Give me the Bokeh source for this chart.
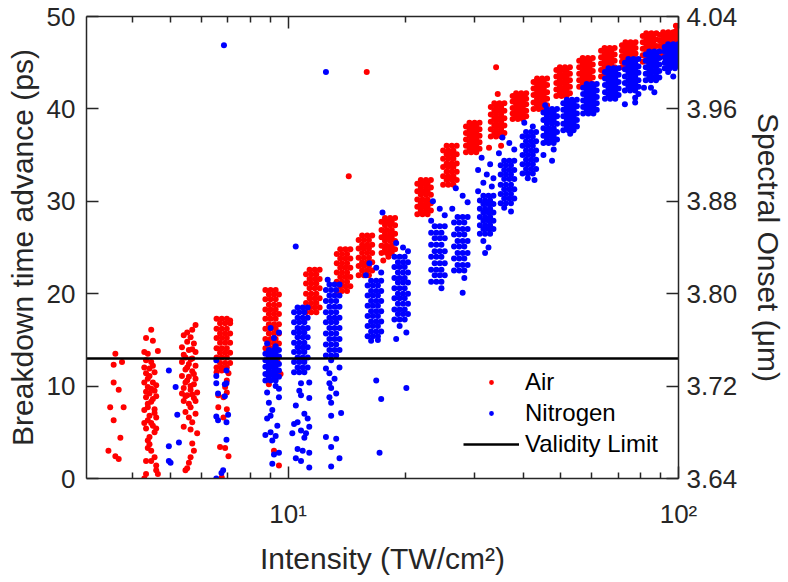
from bokeh.plotting import figure
from bokeh.models import (Range1d, LinearAxis, LogAxis, FixedTicker, Legend,
                          LegendItem, PrintfTickFormatter)
from bokeh.embed import file_html
from bokeh.resources import INLINE

# ---------------- axes / ticks ----------------
x_lo, x_hi = 3.045, 100
y_lo, y_hi = 0, 50
onset_lo, onset_hi = 3.64, 4.04
x_major = [10, 100]
x_minor = [4, 5, 6, 7, 8, 9, 20, 30, 40, 50, 60, 70, 80, 90]
x_labels = {10: "10¹", 100: "10²"}
y_ticks = [0, 10, 20, 30, 40, 50]
onset_ticks = [3.64, 3.72, 3.80, 3.88, 3.96, 4.04]
validity_limit = 13

# ---------------- Air: nominal intensity of each shot group (TW/cm2) ----------------
air_levels = [3.61, 4.46, 5.57, 6.83, 9.11, 11.58, 13.88, 15.79, 18.07, 22.32, 25.99,
              29.74, 34.43, 39.16, 44.30, 50.68, 57.99, 65.97, 74.63, 84.37, 93.24, 100.5]
# each shot: (intensity deviation in %, breakdown time advance in ps)
air_shots = [
    [(0,13.5),(-1,12.3),(4,12.6),(-1,10.4),(2,9.6),(-3,7.7),(5,7.7),(-1,6.3),(3,4.4),(-4,3.0),(0,2.4),(2,2.1)],
    [(0,16.1),(-3,15.2),(1,14.9),(-4,13.7),(4,13.8),(-2,13.5),(-3,12.8),(0,12.6),(1,12.2),(-4,12.0),(-1,11.9),(2,11.5),
     (-3,11.4),(-1,11.1),(-2,10.8),(-4,10.4),(1,10.4),(3,10.1),(-2,9.9),(0,9.7),(2,9.5),(-3,9.4),(-1,9.2),(3,8.9),
     (-3,8.8),(1,8.6),(0,8.3),(-2,8.1),(-2,7.7),(2,7.5),(-4,7.4),(2,7.1),(-1,6.8),(3,6.6),(-2,6.3),(0,6.0),(-4,6.0),
     (1,5.7),(-3,5.4),(3,5.4),(2,5.0),(-1,4.5),(-2,4.1),(-1,3.7),(-2,3.3),(0,3.0),(2,2.3),(-3,1.9),(0,1.9),(3,1.4),
     (3,0.9),(-3,0.5),(-4,0.0),(4,0.5)],
    [(4,16.6),(2,16.1),(-1,15.8),(-3,15.5),(1,15.3),(-1,14.8),(3,14.6),(-4,14.2),(2,14.0),(0,13.9),(4,13.7),(-3,13.4),
     (-2,13.1),(2,13.0),(1,12.9),(-4,12.6),(0,12.4),(4,12.2),(-1,12.0),(-2,11.8),(2,11.6),(3,11.3),(-4,11.1),(0,11.0),
     (4,10.8),(-1,10.6),(-2,10.4),(3,10.2),(1,10.0),(-3,9.8),(1,9.6),(5,9.3),(-4,9.2),(2,9.1),(-1,9.0),(-2,8.9),
     (3,8.7),(-3,8.4),(4,8.4),(0,8.1),(1,7.7),(-2,7.2),(4,7.0),(0,6.6),(2,6.1),(-3,5.6),(1,5.3),(5,4.9),(2,3.8),
     (3,3.0),(1,2.3),(0,1.7),(-1,1.1),(-2,0.9)],
    [(-4,12.0),(-1,12.0),(2,12.0),(-2,12.5),(1,12.5),(4,12.5),(-4,13.1),(-1,13.1),(2,13.1),(-2,13.6),(1,13.6),(4,13.6),
     (-4,14.1),(-1,14.1),(2,14.1),(-2,14.7),(1,14.7),(4,14.7),(-4,15.2),(-1,15.2),(2,15.2),(-2,15.7),(1,15.7),(4,15.7),
     (-4,16.2),(-1,16.2),(2,16.2),(-2,16.8),(1,16.8),(4,16.8),(-4,17.3),(-1,17.3),(2,17.3),
     (-1,11.7),(3,11.4),(-4,11.5),(4,17.1),
     (-3,9.0),(2,9.3),(0,8.8),(-3,7.7),(2,7.5),(0,6.6),(-2,3.4),(1,3.3),(3,2.4),(-1,0.1),(1,9.9),(2,10.6)],
    [(-4,14.1),(-1,14.1),(2,14.1),(-2,14.6),(1,14.6),(4,14.6),(-4,15.1),(-1,15.1),(2,15.1),(-2,15.7),(1,15.7),(4,15.7),
     (-4,16.2),(-1,16.2),(2,16.2),(-2,16.7),(1,16.7),(4,16.7),(-4,17.3),(-1,17.3),(2,17.3),(-2,17.8),(1,17.8),(4,17.8),
     (-4,18.3),(-1,18.3),(2,18.3),(-2,18.8),(1,18.8),(4,18.8),(-4,19.4),(-1,19.4),(2,19.4),(-2,19.9),(1,19.9),(4,19.9),
     (-4,20.4),(-1,20.4),(2,20.4),
     (-3,13.6),(1,13.5),(-1,13.0),(3,12.7),(-2,10.2),(5,11.3),(1,3.0),(4,1.4)],
    [(-4,18.0),(-1,18.0),(2,18.0),(-2,18.5),(1,18.5),(4,18.5),(-4,19.0),(-1,19.0),(2,19.0),(-2,19.5),(1,19.5),(4,19.5),
     (-4,20.0),(-1,20.0),(2,20.0),(-2,20.6),(1,20.6),(4,20.6),(-4,21.1),(-1,21.1),(2,21.1),(-2,21.6),(1,21.6),(4,21.6),
     (-4,22.1),(-1,22.1),(2,22.1),(-2,22.6),(1,22.6),(4,22.6)],
    [(-4,20.3),(-1,20.3),(2,20.3),(-2,20.8),(1,20.8),(4,20.8),(-4,21.3),(-1,21.3),(2,21.3),(-2,21.8),(1,21.8),(4,21.8),
     (-4,22.3),(-1,22.3),(2,22.3),(-2,22.8),(1,22.8),(4,22.8),(-4,23.3),(-1,23.3),(2,23.3),(-2,23.8),(1,23.8),(4,23.8),
     (-4,24.3),(-1,24.3),(2,24.3),(-2,24.8),(1,24.8),(4,24.8)],
    [(-4,22.0),(-1,22.0),(2,22.0),(-2,22.5),(1,22.5),(4,22.5),(-4,23.0),(-1,23.0),(2,23.0),(-2,23.4),(1,23.4),(4,23.4),
     (-4,23.9),(-1,23.9),(2,23.9),(-2,24.4),(1,24.4),(4,24.4),(-4,24.9),(-1,24.9),(2,24.9),(-2,25.3),(1,25.3),(4,25.3),
     (-4,25.8),(-1,25.8),(2,25.8),(-2,26.3),(1,26.3),(4,26.3)],
    [(-4,24.4),(-1,24.4),(2,24.4),(-2,24.8),(1,24.8),(4,24.8),(-4,25.2),(-1,25.2),(2,25.2),(-2,25.7),(1,25.7),(4,25.7),
     (-4,26.1),(-1,26.1),(2,26.1),(-2,26.5),(1,26.5),(4,26.5),(-4,26.9),(-1,26.9),(2,26.9),(-2,27.4),(1,27.4),(4,27.4),
     (-4,27.8),(-1,27.8),(2,27.8),(-2,28.2),(1,28.2),(4,28.2),(-3,23.6),(0,24.0)],
    [(-4,28.6),(-1,28.6),(2,28.6),(-2,29.0),(1,29.0),(4,29.0),(-4,29.4),(-1,29.4),(2,29.4),(-2,29.8),(1,29.8),(4,29.8),
     (-4,30.2),(-1,30.2),(2,30.2),(-2,30.7),(1,30.7),(4,30.7),(-4,31.1),(-1,31.1),(2,31.1),(-2,31.5),(1,31.5),(4,31.5),
     (-4,31.9),(-1,31.9),(2,31.9),(-2,32.3),(1,32.3),(4,32.3)],
    [(-4,31.8),(-1,31.8),(2,31.8),(-2,32.3),(1,32.3),(4,32.3),(-4,32.7),(-1,32.7),(2,32.7),(-2,33.2),(1,33.2),(4,33.2),
     (-4,33.7),(-1,33.7),(2,33.7),(-2,34.1),(1,34.1),(4,34.1),(-4,34.6),(-1,34.6),(2,34.6),(-2,35.1),(1,35.1),(4,35.1),
     (-4,35.5),(-1,35.5),(2,35.5),(-2,36.0),(1,36.0),(4,36.0)],
    [(-4,35.3),(-1,35.3),(2,35.3),(-2,35.7),(1,35.7),(4,35.7),(-4,36.0),(-1,36.0),(2,36.0),(-2,36.4),(1,36.4),(4,36.4),
     (-4,36.7),(-1,36.7),(2,36.7),(-2,37.1),(1,37.1),(4,37.1),(-4,37.4),(-1,37.4),(2,37.4),(-2,37.8),(1,37.8),(4,37.8),
     (-4,38.1),(-1,38.1),(2,38.1),(-2,38.5),(1,38.5),(4,38.5)],
    [(-4,37.0),(-1,37.0),(2,37.0),(-2,37.4),(1,37.4),(4,37.4),(-4,37.8),(-1,37.8),(2,37.8),(-2,38.2),(1,38.2),(4,38.2),
     (-4,38.6),(-1,38.6),(2,38.6),(-2,39.0),(1,39.0),(4,39.0),(-4,39.4),(-1,39.4),(2,39.4),(-2,39.8),(1,39.8),(4,39.8),
     (-4,40.2),(-1,40.2),(2,40.2),(-2,40.6),(1,40.6),(4,40.6),(-5,35.8),(2,36.0),(0,41.6)],
    [(-4,38.9),(-1,38.9),(2,38.9),(-2,39.2),(1,39.2),(4,39.2),(-4,39.5),(-1,39.5),(2,39.5),(-2,39.8),(1,39.8),(4,39.8),
     (-4,40.1),(-1,40.1),(2,40.1),(-2,40.5),(1,40.5),(4,40.5),(-4,40.8),(-1,40.8),(2,40.8),(-2,41.1),(1,41.1),(4,41.1),
     (-4,41.4),(-1,41.4),(2,41.4),(-2,41.7),(1,41.7),(4,41.7)],
    [(-4,40.0),(-1,40.0),(2,40.0),(-2,40.4),(1,40.4),(4,40.4),(-4,40.7),(-1,40.7),(2,40.7),(-2,41.1),(1,41.1),(4,41.1),
     (-4,41.5),(-1,41.5),(2,41.5),(-2,41.8),(1,41.8),(4,41.8),(-4,42.2),(-1,42.2),(2,42.2),(-2,42.6),(1,42.6),(4,42.6),
     (-4,42.9),(-1,42.9),(2,42.9),(-2,43.3),(1,43.3),(4,43.3)],
    [(-4,41.4),(-1,41.4),(2,41.4),(-2,41.7),(1,41.7),(4,41.7),(-4,42.1),(-1,42.1),(2,42.1),(-2,42.4),(1,42.4),(4,42.4),
     (-4,42.8),(-1,42.8),(2,42.8),(-2,43.1),(1,43.1),(4,43.1),(-4,43.5),(-1,43.5),(2,43.5),(-2,43.8),(1,43.8),(4,43.8),
     (-4,44.2),(-1,44.2),(2,44.2),(-2,44.5),(1,44.5),(4,44.5)],
    [(-4,42.4),(-1,42.4),(2,42.4),(-2,42.7),(1,42.7),(4,42.7),(-4,43.1),(-1,43.1),(2,43.1),(-2,43.4),(1,43.4),(4,43.4),
     (-4,43.8),(-1,43.8),(2,43.8),(-2,44.1),(1,44.1),(4,44.1),(-4,44.5),(-1,44.5),(2,44.5),(-2,44.8),(1,44.8),(4,44.8),
     (-4,45.2),(-1,45.2),(2,45.2),(-2,45.5),(1,45.5),(4,45.5),(4,41.4)],
    [(-4,43.5),(-1,43.5),(2,43.5),(-2,43.8),(1,43.8),(4,43.8),(-4,44.2),(-1,44.2),(2,44.2),(-2,44.5),(1,44.5),(4,44.5),
     (-4,44.9),(-1,44.9),(2,44.9),(-2,45.2),(1,45.2),(4,45.2),(-4,45.6),(-1,45.6),(2,45.6),(-2,45.9),(1,45.9),(4,45.9),
     (-4,46.3),(-1,46.3),(2,46.3),(-2,46.6),(1,46.6),(4,46.6),(4,42.9)],
    [(-4,44.5),(-1,44.5),(2,44.5),(-2,44.8),(1,44.8),(4,44.8),(-4,45.1),(-1,45.1),(2,45.1),(-2,45.4),(1,45.4),(4,45.4),
     (-4,45.7),(-1,45.7),(2,45.7),(-2,46.0),(1,46.0),(4,46.0),(-4,46.3),(-1,46.3),(2,46.3),(-2,46.6),(1,46.6),(4,46.6),
     (-4,46.9),(-1,46.9),(2,46.9),(-2,47.2),(1,47.2),(4,47.2)],
    [(-4,45.1),(-1,45.1),(2,45.1),(-2,45.4),(1,45.4),(4,45.4),(-4,45.8),(-1,45.8),(2,45.8),(-2,46.1),(1,46.1),(4,46.1),
     (-4,46.5),(-1,46.5),(2,46.5),(-2,46.8),(1,46.8),(4,46.8),(-4,47.2),(-1,47.2),(2,47.2),(-2,47.5),(1,47.5),(4,47.5),
     (-4,47.9),(-1,47.9),(2,47.9),(-2,48.2),(1,48.2),(4,48.2)],
    [(-4,45.6),(-1,45.6),(2,45.6),(-2,45.9),(1,45.9),(4,45.9),(-4,46.2),(-1,46.2),(2,46.2),(-2,46.5),(1,46.5),(4,46.5),
     (-4,46.8),(-1,46.8),(2,46.8),(-2,47.1),(1,47.1),(4,47.1),(-4,47.4),(-1,47.4),(2,47.4),(-2,47.7),(1,47.7),(4,47.7),
     (-4,48.0),(-1,48.0),(2,48.0),(-2,48.3),(1,48.3),(4,48.3)],
    [(-2,46.6),(0,46.6),(-1,46.9),(1,46.9),(-2,47.2),(0,47.2),(-1,47.5),(1,47.5),(-2,47.8),(0,47.8),(-1,48.1),(1,48.1),
     (-2,48.4),(0,48.4),(-1,48.7),(1,48.7),(-2,49.0),(0,49.0)],
]
air_outliers = [(15.9, 44.0), (14.3, 32.7), (34.1, 44.5)]

# ---------------- Nitrogen ----------------
n2_levels = [5.05, 6.75, 9.11, 10.79, 13.02, 16.65, 19.50, 24.22, 27.72, 32.28, 36.50,
             41.52, 46.96, 52.80, 59.36, 67.52, 75.93, 85.87, 96.0]
n2_shots = [
    [(-2,11.7),(2,9.9),(3,6.9),(-2,3.5),(4,3.9),(-2,1.9),(-1,1.7)],
    [(-3,12.8),(-3,11.1),(3,11.7),(-3,10.3),(-2,9.2),(2,8.9),(-3,6.7),(-2,6.3),(3,6.1),(3,4.2),(1,0.9),(0,0.6),
     (-3,0.0),(3,10.3),(4,6.9),(2,10.2)],
    [(-4,10.6),(-1,10.6),(2,10.6),(-2,11.0),(1,11.0),(4,11.0),(-4,11.3),(-1,11.3),(2,11.3),(-2,11.7),(1,11.7),(4,11.7),
     (-4,12.1),(-1,12.1),(2,12.1),(-2,12.4),(1,12.4),(4,12.4),(-4,12.8),(-1,12.8),(2,12.8),(-2,13.2),(1,13.2),(4,13.2),
     (-4,13.5),(-1,13.5),(2,13.5),(-2,13.9),(1,13.9),(4,13.9),
     (-3,14.6),(1,15.2),(4,15.8),(-1,16.3),(2,14.3),
     (4,9.7),(4,8.8),(-2,8.2),(0,7.4),(-1,6.8),(-3,6.5),(3,5.7),(-4,4.7),(-1,5.0),(2,4.6),(0,4.1),(4,2.8),(1,2.6),
     (0,1.6),(-3,9.3),(2,10.0)],
    [(-4,11.5),(-1,11.5),(2,11.5),(-2,12.0),(1,12.0),(4,12.0),(-4,12.6),(-1,12.6),(2,12.6),(-2,13.1),(1,13.1),(4,13.1),
     (-4,13.7),(-1,13.7),(2,13.7),(-2,14.2),(1,14.2),(4,14.2),(-4,14.7),(-1,14.7),(2,14.7),(-2,15.3),(1,15.3),(4,15.3),
     (-4,15.8),(-1,15.8),(2,15.8),(-2,16.3),(1,16.3),(4,16.3),(-4,16.9),(-1,16.9),(2,16.9),(-2,17.4),(1,17.4),(4,17.4),
     (-4,18.0),(-1,18.0),(2,18.0),(-2,18.5),(1,18.5),(4,18.5),
     (0,10.3),(5,10.4),(-1,9.5),(0,9.0),(5,8.7),(-3,7.9),(2,7.0),(4,6.5),(-4,5.9),(-2,6.1),(5,5.6),(0,5.2),(-5,4.9),
     (3,4.9),(2,4.4),(-2,3.2),(1,3.0),(5,2.8),(-3,2.2),(0,1.9),(5,1.2)],
    [(-4,13.3),(-1,13.3),(2,13.3),(-2,13.9),(1,13.9),(4,13.9),(-4,14.5),(-1,14.5),(2,14.5),(-2,15.1),(1,15.1),(4,15.1),
     (-4,15.7),(-1,15.7),(2,15.7),(-2,16.3),(1,16.3),(4,16.3),(-4,16.9),(-1,16.9),(2,16.9),(-2,17.4),(1,17.4),(4,17.4),
     (-4,18.0),(-1,18.0),(2,18.0),(-2,18.6),(1,18.6),(4,18.6),(-4,19.2),(-1,19.2),(2,19.2),(-2,19.8),(1,19.8),(4,19.8),
     (-4,20.4),(-1,20.4),(2,20.4),(-2,21.0),(1,21.0),(4,21.0),(-3,21.5),(-1,12.8),
     (-4,11.9),(4,12.0),(-2,11.4),(1,10.8),(-2,10.3),(-1,9.8),(2,9.2),(-2,8.8),(-1,8.2),(-1,6.8),(5,7.1),(-4,4.5),
     (2,4.3),(-1,3.4),(4,2.2),(-1,1.3)],
    [(-4,15.4),(-1,15.4),(2,15.4),(-2,15.9),(1,15.9),(4,15.9),(-4,16.5),(-1,16.5),(2,16.5),(-2,17.0),(1,17.0),(4,17.0),
     (-4,17.6),(-1,17.6),(2,17.6),(-2,18.1),(1,18.1),(4,18.1),(-4,18.7),(-1,18.7),(2,18.7),(-2,19.2),(1,19.2),(4,19.2),
     (-4,19.8),(-1,19.8),(2,19.8),(-2,20.3),(1,20.3),(4,20.3),(-4,20.9),(-1,20.9),(2,20.9),(-2,21.4),(1,21.4),(4,21.4),
     (-3,23.3),(1,22.8),(4,22.3),(-5,22.0),(2,15.0),(-2,14.9),(1,10.6),(4,8.6),(3,2.8)],
    [(-4,17.2),(-1,17.2),(2,17.2),(-2,17.8),(1,17.8),(4,17.8),(-4,18.3),(-1,18.3),(2,18.3),(-2,18.9),(1,18.9),(4,18.9),
     (-4,19.5),(-1,19.5),(2,19.5),(-2,20.0),(1,20.0),(4,20.0),(-4,20.6),(-1,20.6),(2,20.6),(-2,21.2),(1,21.2),(4,21.2),
     (-4,21.7),(-1,21.7),(2,21.7),(-2,22.3),(1,22.3),(4,22.3),(-4,22.9),(-1,22.9),(2,22.9),(-2,23.4),(1,23.4),(4,23.4),
     (-4,24.0),(-1,24.0),(2,24.0),
     (-3,25.5),(1,25.0),(4,24.6),(-1,16.5),(3,15.8),(-3,15.1),(3,9.8)],
    [(-4,21.3),(-1,21.3),(2,21.3),(-2,22.0),(1,22.0),(4,22.0),(-4,22.6),(-1,22.6),(2,22.6),(-2,23.3),(1,23.3),(4,23.3),
     (-4,24.0),(-1,24.0),(2,24.0),(-2,24.6),(1,24.6),(4,24.6),(-4,25.3),(-1,25.3),(2,25.3),(-2,26.0),(1,26.0),(4,26.0),
     (-4,26.6),(-1,26.6),(2,26.6),(-2,27.3),(1,27.3),(4,27.3),
     (-3,30.0),(1,29.2),(4,28.5),(-4,27.9),(2,20.6)],
    [(-4,22.5),(-1,22.5),(2,22.5),(-2,23.1),(1,23.1),(4,23.1),(-4,23.8),(-1,23.8),(2,23.8),(-2,24.4),(1,24.4),(4,24.4),
     (-4,25.1),(-1,25.1),(2,25.1),(-2,25.7),(1,25.7),(4,25.7),(-4,26.4),(-1,26.4),(2,26.4),(-2,27.0),(1,27.0),(4,27.0),
     (-4,27.7),(-1,27.7),(2,27.7),(-2,28.3),(1,28.3),(4,28.3),
     (-3,31.4),(1,30.6),(4,29.9),(-5,29.2),(2,21.7),(1,20.1)],
    [(-4,26.5),(-1,26.5),(2,26.5),(-2,27.0),(1,27.0),(4,27.0),(-4,27.4),(-1,27.4),(2,27.4),(-2,27.9),(1,27.9),(4,27.9),
     (-4,28.3),(-1,28.3),(2,28.3),(-2,28.8),(1,28.8),(4,28.8),(-4,29.2),(-1,29.2),(2,29.2),(-2,29.7),(1,29.7),(4,29.7),
     (-4,30.1),(-1,30.1),(2,30.1),(-2,30.6),(1,30.6),(4,30.6),
     (-3,34.7),(2,34.0),(-5,33.4),(0,32.9),(4,32.5),(-2,32.0),(3,31.6),(-5,31.1),(-2,25.7),(1,25.0),(-1,24.4)],
    [(-4,29.8),(-1,29.8),(2,29.8),(-2,30.3),(1,30.3),(4,30.3),(-4,30.8),(-1,30.8),(2,30.8),(-2,31.3),(1,31.3),(4,31.3),
     (-4,31.8),(-1,31.8),(2,31.8),(-2,32.4),(1,32.4),(4,32.4),(-4,32.9),(-1,32.9),(2,32.9),(-2,33.4),(1,33.4),(4,33.4),
     (-4,33.9),(-1,33.9),(2,33.9),(-2,34.4),(1,34.4),(4,34.4),
     (-3,36.9),(1,36.3),(4,35.6),(-5,35.2),(-2,29.3),(2,28.9)],
    [(-4,33.0),(-1,33.0),(2,33.0),(-2,33.5),(1,33.5),(4,33.5),(-4,34.0),(-1,34.0),(2,34.0),(-2,34.5),(1,34.5),(4,34.5),
     (-4,35.0),(-1,35.0),(2,35.0),(-2,35.5),(1,35.5),(4,35.5),(-4,36.0),(-1,36.0),(2,36.0),(-2,36.5),(1,36.5),(4,36.5),
     (-4,37.0),(-1,37.0),(2,37.0),(-2,37.5),(1,37.5),(4,37.5),
     (-3,38.5),(2,38.1),(-1,32.5),(3,32.3)],
    [(-4,36.3),(-1,36.3),(2,36.3),(-2,36.7),(1,36.7),(4,36.7),(-4,37.1),(-1,37.1),(2,37.1),(-2,37.5),(1,37.5),(4,37.5),
     (-4,37.9),(-1,37.9),(2,37.9),(-2,38.4),(1,38.4),(4,38.4),(-4,38.8),(-1,38.8),(2,38.8),(-2,39.2),(1,39.2),(4,39.2),
     (-4,39.6),(-1,39.6),(2,39.6),(-2,40.0),(1,40.0),(4,40.0),
     (-3,40.4),(2,35.6),(-4,35.0),(1,34.4)],
    [(-4,37.7),(-1,37.7),(2,37.7),(-2,38.1),(1,38.1),(4,38.1),(-4,38.4),(-1,38.4),(2,38.4),(-2,38.8),(1,38.8),(4,38.8),
     (-4,39.2),(-1,39.2),(2,39.2),(-2,39.5),(1,39.5),(4,39.5),(-4,39.9),(-1,39.9),(2,39.9),(-2,40.3),(1,40.3),(4,40.3),
     (-4,40.6),(-1,40.6),(2,40.6),(-2,41.0),(1,41.0),(4,41.0),(0,37.3)],
    [(-4,39.5),(-1,39.5),(2,39.5),(-2,39.9),(1,39.9),(4,39.9),(-4,40.2),(-1,40.2),(2,40.2),(-2,40.6),(1,40.6),(4,40.6),
     (-4,40.9),(-1,40.9),(2,40.9),(-2,41.3),(1,41.3),(4,41.3),(-4,41.6),(-1,41.6),(2,41.6),(-2,42.0),(1,42.0),(4,42.0),
     (-4,42.3),(-1,42.3),(2,42.3),(-2,42.7),(1,42.7),(4,42.7)],
    [(-4,41.1),(-1,41.1),(2,41.1),(-2,41.5),(1,41.5),(4,41.5),(-4,41.8),(-1,41.8),(2,41.8),(-2,42.2),(1,42.2),(4,42.2),
     (-4,42.6),(-1,42.6),(2,42.6),(-2,42.9),(1,42.9),(4,42.9),(-4,43.3),(-1,43.3),(2,43.3),(-2,43.7),(1,43.7),(4,43.7),
     (-4,44.0),(-1,44.0),(2,44.0),(-2,44.4),(1,44.4),(4,44.4)],
    [(-4,42.0),(-1,42.0),(2,42.0),(-2,42.4),(1,42.4),(4,42.4),(-4,42.8),(-1,42.8),(2,42.8),(-2,43.1),(1,43.1),(4,43.1),
     (-4,43.5),(-1,43.5),(2,43.5),(-2,43.9),(1,43.9),(4,43.9),(-4,44.3),(-1,44.3),(2,44.3),(-2,44.6),(1,44.6),(4,44.6),
     (-4,45.0),(-1,45.0),(2,45.0),(-2,45.4),(1,45.4),(4,45.4),(-4,40.5),(2,40.7),(2,41.2),(4,41.6)],
    [(-4,43.1),(-1,43.1),(2,43.1),(-2,43.4),(1,43.4),(4,43.4),(-4,43.8),(-1,43.8),(2,43.8),(-2,44.1),(1,44.1),(4,44.1),
     (-4,44.5),(-1,44.5),(2,44.5),(-2,44.8),(1,44.8),(4,44.8),(-4,45.2),(-1,45.2),(2,45.2),(-2,45.5),(1,45.5),(4,45.5),
     (-4,45.9),(-1,45.9),(2,45.9),(-2,46.2),(1,46.2),(4,46.2),(-5,42.3),(-1,42.3),(1,41.8)],
    [(-4,44.4),(-1,44.4),(2,44.4),(-2,44.7),(1,44.7),(4,44.7),(-4,45.0),(-1,45.0),(2,45.0),(-2,45.3),(1,45.3),(4,45.3),
     (-4,45.6),(-1,45.6),(2,45.6),(-2,45.9),(1,45.9),(4,45.9),(-4,46.2),(-1,46.2),(2,46.2),(-2,46.4),(1,46.4),(4,46.4),
     (-4,46.7),(-1,46.7),(2,46.7),(-2,47.0),(1,47.0),(4,47.0),(1,43.5),(6,46.2),(6,45.4),(6,44.8),(-2,44.0)],
]
n2_outliers = [(6.85, 46.9), (12.5, 44.0), (10.46, 25.1), (17.45, 28.8)]


def expand(levels, shots, outliers):
    xs, ys = [], []
    for lvl, group in zip(levels, shots):
        for dev, val in group:
            xs.append(lvl * (1 + dev / 100.0))
            ys.append(val)
    for xv, yv in outliers:
        xs.append(xv)
        ys.append(yv)
    return xs, ys


air_x, air_y = expand(air_levels, air_shots, air_outliers)
n2_x, n2_y = expand(n2_levels, n2_shots, n2_outliers)

FONT = "Liberation Sans"
INK = "#262626"

p = figure(width=788, height=582, x_axis_type="log",
           x_range=Range1d(x_lo, x_hi), y_range=Range1d(y_lo, y_hi),
           output_backend="svg", toolbar_location=None,
           min_border_left=86, min_border_right=106, min_border_top=16, min_border_bottom=104)
p.extra_y_ranges = {"onset": Range1d(onset_lo, onset_hi)}
p.grid.visible = False
p.outline_line_color = None
p.background_fill_color = "white"
p.border_fill_color = "white"

r_air = p.scatter(air_x, air_y, marker="circle", size=6, fill_color="#ff0000", line_color=None)
r_n2 = p.scatter(n2_x, n2_y, marker="circle", size=6, fill_color="#0000ff", line_color=None)
r_lim = p.line([x_lo, x_hi], [validity_limit, validity_limit], line_color="black", line_width=2.5)


def style(ax):
    ax.axis_line_color = INK
    ax.axis_line_width = 1.5
    ax.major_tick_line_color = INK
    ax.major_tick_line_width = 1.5
    ax.minor_tick_line_color = INK
    ax.minor_tick_line_width = 1.5
    ax.major_tick_in = 12
    ax.major_tick_out = 0
    ax.minor_tick_in = 6
    ax.minor_tick_out = 0
    ax.major_label_text_font = FONT
    ax.major_label_text_font_size = "26px"
    ax.major_label_text_color = INK
    ax.axis_label_text_font = FONT
    ax.axis_label_text_font_size = "30px"
    ax.axis_label_text_font_style = "normal"
    ax.axis_label_text_color = INK


xa = p.xaxis[0]
style(xa)
xa.ticker = FixedTicker(ticks=x_major, minor_ticks=x_minor)
xa.major_label_overrides = x_labels
xa.axis_label = "Intensity (TW/cm²)"
xa.major_label_standoff = 20
xa.axis_label_standoff = 10

ya = p.yaxis[0]
style(ya)
ya.ticker = FixedTicker(ticks=y_ticks)
ya.axis_label = "Breakdown time advance (ps)"
ya.major_label_standoff = 11
ya.axis_label_standoff = 5

top = LogAxis(ticker=FixedTicker(ticks=x_major, minor_ticks=x_minor))
style(top)
top.major_label_text_font_size = "0px"
top.major_label_standoff = 0
top.major_label_overrides = {10: "", 100: ""}
p.add_layout(top, "above")

right = LinearAxis(y_range_name="onset", ticker=FixedTicker(ticks=onset_ticks),
                   formatter=PrintfTickFormatter(format="%.2f"))
style(right)
right.axis_label = "Spectral Onset (μm)"
right.major_label_standoff = 8
right.axis_label_standoff = 12
p.add_layout(right, "right")

legend = Legend(items=[LegendItem(label="Air", renderers=[r_air]),
                       LegendItem(label="Nitrogen", renderers=[r_n2]),
                       LegendItem(label="Validity Limit", renderers=[r_lim])],
                location=(377, 20), glyph_width=56, glyph_height=12, label_height=29,
                spacing=2, padding=0, margin=0, label_standoff=6,
                border_line_alpha=0, background_fill_alpha=0,
                label_text_font=FONT, label_text_font_size="24px", label_text_color="black")
p.add_layout(legend)

with open("out.html", "w", encoding="utf-8") as f:
    f.write(file_html(p, INLINE))
